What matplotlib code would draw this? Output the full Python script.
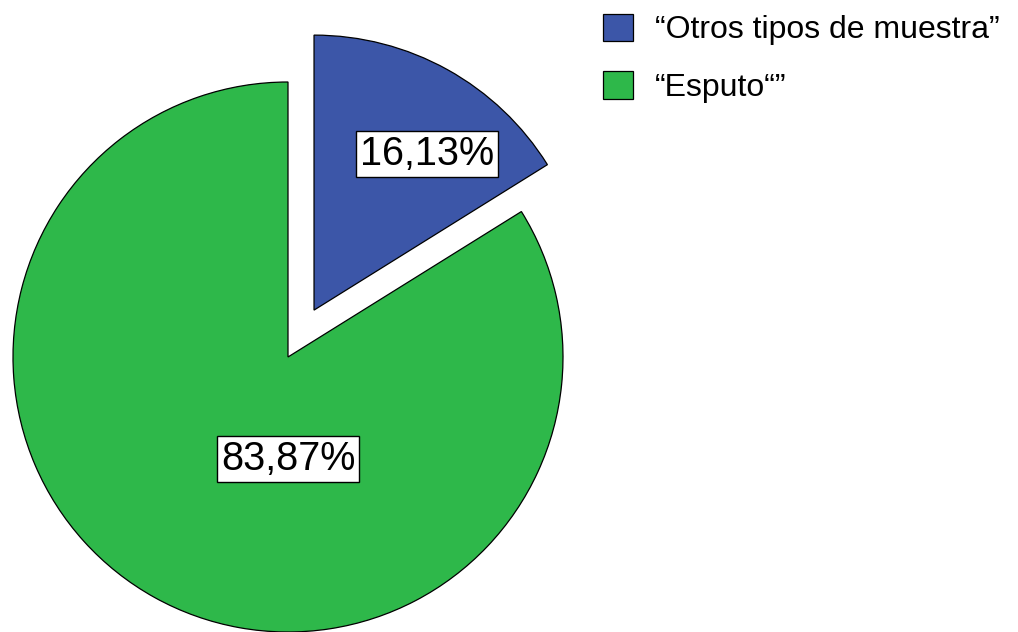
import matplotlib
matplotlib.use("Agg")
import matplotlib.pyplot as plt
import numpy as np

categories = ["\u201cOtros tipos de muestra\u201d", "\u201cEsputo\u201c\u201d"]
values = [16.13, 83.87]
pct_labels = ["16,13%", "83,87%"]
colors = ["#3c56a8", "#2eb84a"]
explode_frac = [0.195, 0.0]
label_angles = [54.0, -90.0]
label_dist = [0.7, 0.37]

plt.rcParams['font.family'] = ['Liberation Sans', 'DejaVu Sans']

W, H = 1018, 632
fig = plt.figure(figsize=(W / 100, H / 100), dpi=100)
ax = fig.add_axes([0, 0, 1, 1])
ax.set_xlim(0, W)
ax.set_ylim(0, H)

R = 275
cx, cy = 288, H - 357
wedges, _ = ax.pie(values, colors=colors, startangle=90, counterclock=False,
                   radius=R, center=(cx, cy), explode=[e * R for e in explode_frac],
                   wedgeprops=dict(edgecolor="black", linewidth=0.9),
                   frame=True)
ax.set_xlim(0, W)
ax.set_ylim(0, H)
ax.set_axis_off()

for w, lab, a, d, e in zip(wedges, pct_labels, label_angles, label_dist, explode_frac):
    mid = np.deg2rad((w.theta1 + w.theta2) / 2)
    ox, oy = cx + e * R * np.cos(mid), cy + e * R * np.sin(mid)
    x = ox + d * R * np.cos(np.deg2rad(a))
    y = oy + d * R * np.sin(np.deg2rad(a))
    ax.text(x, y, lab, ha="center", va="center", fontsize=28.5,
            bbox=dict(boxstyle="square,pad=0.1", fc="white", ec="black", lw=1.0))

leg = ax.legend(wedges, categories, loc="upper left", bbox_to_anchor=(593 / W, 1 - 4 / H),
                frameon=False, fontsize=23, handlelength=0.96, handleheight=0.96,
                handletextpad=0.68, labelspacing=0.8, borderaxespad=0, borderpad=0.3)

fig.savefig("out.png", dpi=100)
